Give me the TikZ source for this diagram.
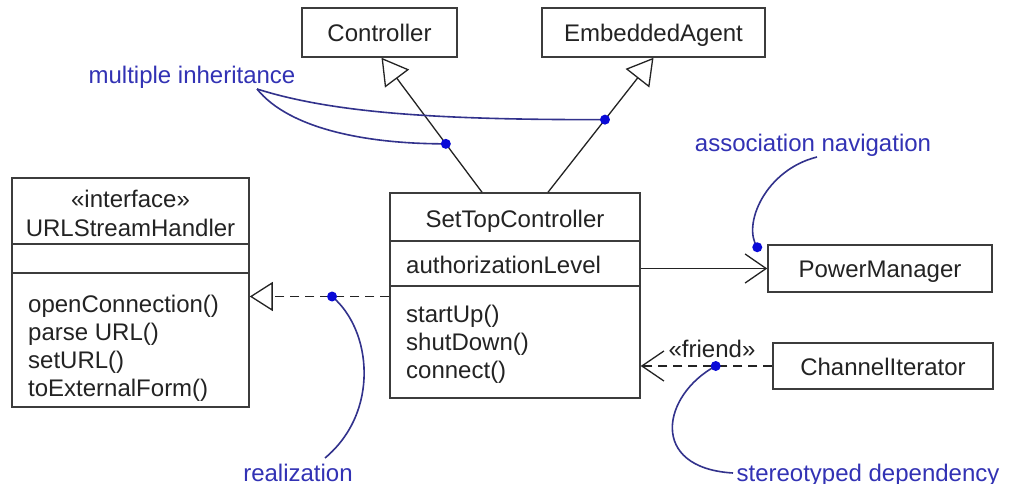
\documentclass[tikz,border=0pt]{standalone}
\usepackage{fontspec}
\setmainfont{Liberation Sans}
\usetikzlibrary{arrows.meta,calc}
\definecolor{ink}{RGB}{35,35,35}
\definecolor{boxline}{RGB}{60,60,60}
\definecolor{notetext}{RGB}{50,50,180}
\definecolor{noteline}{RGB}{50,50,140}
\definecolor{notedot}{RGB}{10,10,215}
\begin{document}
\begin{tikzpicture}[x=1pt,y=-1pt,
  every node/.style={font=\fontsize{24}{29}\selectfont, text=ink},
  umlbox/.style={draw=boxline, line width=1.5pt, inner sep=0pt, fill=white, text height=20pt, text depth=2pt},
  sepline/.style={draw=boxline, line width=1.5pt},
  txt/.style={inner sep=0pt, text height=20pt, text depth=2pt},
  note/.style={inner sep=0pt, text height=20pt, text depth=2pt, text=notetext},
  conn/.style={draw=ink, line width=1.3pt},
  gen/.style={conn, -{Triangle[open, length=26pt, width=30pt]}},
  nav/.style={conn, -{Straight Barb[length=21pt, width=29pt]}},
  dep/.style={conn, dash pattern=on 9pt off 6pt},
  notecurve/.style={draw=noteline, line width=1.6pt},
  dot/.style={circle, fill=notedot, inner sep=0pt, minimum size=10pt},
]
\useasboundingbox[fill=white] (0,0) rectangle (1009,484);

% simple class boxes
\node[umlbox, minimum width=155pt, minimum height=49pt] (ctrl) at (379.5,32.5) {Controller};
\node[umlbox, minimum width=223pt, minimum height=49pt] (ea) at (653.5,32.5) {EmbeddedAgent};
\node[umlbox, minimum width=224pt, minimum height=47pt] (pm) at (880,268.5) {PowerManager};
\node[umlbox, minimum width=220pt, minimum height=46pt] (ci) at (883,366) {ChannelIterator};

% SetTopController
\node[umlbox, minimum width=250pt, minimum height=205pt] (stc) at (515,295.5) {};
\draw[sepline] (stc.west |- 0,241) -- (stc.east |- 0,241);
\draw[sepline] (stc.west |- 0,286) -- (stc.east |- 0,286);
\node[txt] (stcname) at (515,218) {SetTopController};
\node[txt, anchor=west] (stcattr) at (406,264) {authorizationLevel};
\node[txt, anchor=west] (stcop1) at (406,313) {startUp()};
\node[txt, anchor=west] (stcop2) at (406,341) {shutDown()};
\node[txt, anchor=west] (stcop3) at (406,369) {connect()};

% URLStreamHandler
\node[umlbox, minimum width=237pt, minimum height=229pt] (ush) at (130.5,292.5) {};
\draw[sepline] (ush.west |- 0,244) -- (ush.east |- 0,244);
\draw[sepline] (ush.west |- 0,273) -- (ush.east |- 0,273);
\node[txt] (ushst) at (130.5,198) {«interface»};
\node[txt] (ushname) at (130.5,227) {URLStreamHandler};
\node[txt, anchor=west] (ushop1) at (28,303) {openConnection()};
\node[txt, anchor=west] (ushop2) at (28,331) {parse URL()};
\node[txt, anchor=west] (ushop3) at (28,359) {setURL()};
\node[txt, anchor=west] (ushop4) at (28,387) {toExternalForm()};

% connectors
\draw[gen] ([xshift=-33pt]stc.north) -- ([xshift=2pt]ctrl.south) coordinate[pos=0.36] (d1);
\draw[gen] ([xshift=33pt]stc.north) -- (ea.south) coordinate[pos=0.54] (d2);
\draw[nav] (stc.east |- pm.west) -- (pm.west);
\coordinate (rl) at ([yshift=-4pt]ush.east);
\draw[dep, -{Triangle[open, length=23pt, width=29pt]}] (stc.west |- rl) -- (rl) coordinate[pos=0.41] (rdot);
\draw[dep, -{Straight Barb[length=22pt, width=30pt]}] (ci.west) -- (stc.east |- ci.west) coordinate[pos=0.43] (fdot);
\node[txt] (friend) at (712,348) {«friend»};

% notes
\node[note] (mi) at (192,75) {multiple inheritance};
\node[note] (an) at (813,142) {association navigation};
\node[note] (re) at (298,472) {realization};
\node[note] (sd) at (868,472) {stereotyped dependency};
\coordinate (mis) at (257,89);
\coordinate (ans) at (817,157);
\coordinate (res) at (325,458);
\coordinate (sds) at (733,473);
\coordinate (andot) at ([xshift=-10pt,yshift=-3pt]pm.north west);

\draw[notecurve] (mis) .. controls (330,112) and (430,120) .. (d2);
\draw[notecurve] (mis) .. controls (290,130) and (370,144) .. (d1);
\draw[notecurve] (ans) .. controls (765,170) and (742,225) .. (andot);
\draw[notecurve] (rdot) .. controls (372,330) and (380,412) .. (res);
\draw[notecurve] (fdot) .. controls (662,395) and (648,468) .. (sds);

\node[dot] at (d1) {};
\node[dot] at (d2) {};
\node[dot] at (andot) {};
\node[dot] at (rdot) {};
\node[dot] at (fdot) {};
\end{tikzpicture}
\end{document}
